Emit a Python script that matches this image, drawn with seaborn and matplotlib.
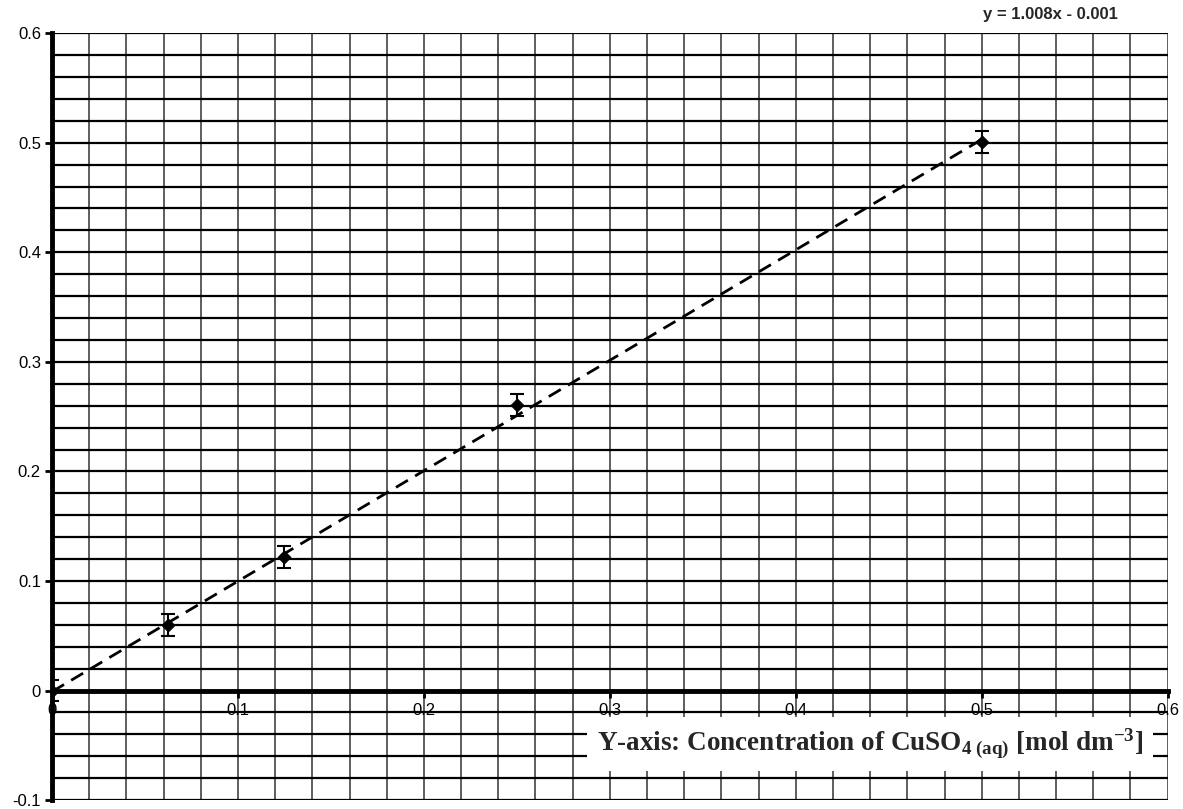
#!/usr/bin/env python3
"""Calibration line for CuSO4 concentration, old Excel look: dense grid, error bars, dashed trend."""

import matplotlib
matplotlib.use("Agg")
import matplotlib.pyplot as plt
import numpy as np
import pandas as pd
import seaborn as sns

# measured points
conc_x = [0.0, 0.0625, 0.125, 0.25, 0.5]
conc_y = [0.0, 0.060, 0.122, 0.261, 0.501]
err_y = [0.01, 0.01, 0.01, 0.01, 0.01]

# linear trendline as printed on the chart
TREND_SLOPE = 1.008
TREND_INTERCEPT = -0.001
trend_x = [0.0, 0.5]

x_ticks = [0.0, 0.1, 0.2, 0.3, 0.4, 0.5, 0.6]
x_tick_labels = ["0", "0.1", "0.2", "0.3", "0.4", "0.5", "0.6"]
y_ticks = [-0.1, 0.0, 0.1, 0.2, 0.3, 0.4, 0.5, 0.6]
y_tick_labels = ["-0.1", "0", "0.1", "0.2", "0.3", "0.4", "0.5", "0.6"]

EQUATION = "y = 1.008x - 0.001"
AXIS_NOTE = r"Y-axis: Concentration of CuSO$_{4\ \mathrm{(aq)}}$ [mol dm$^{-3}$]"


def main() -> None:
    sns.set_theme(style="white")
    plt.rcParams["font.family"] = ["Liberation Sans", "DejaVu Sans"]
    plt.rcParams["mathtext.fontset"] = "custom"
    plt.rcParams["mathtext.rm"] = "Liberation Serif:bold"
    plt.rcParams["mathtext.it"] = "Liberation Serif:bold:italic"
    plt.rcParams["mathtext.bf"] = "Liberation Serif:bold"

    pts = pd.DataFrame({"x": conc_x, "y": conc_y})
    trend = pd.DataFrame({"x": trend_x})
    trend["y"] = TREND_SLOPE * trend["x"] + TREND_INTERCEPT

    fig = plt.figure(figsize=(11.83, 8.09), dpi=100)
    ax = fig.add_axes([0.044, 0.011, 0.943, 0.948])

    # dense Excel-style grid, every 0.02
    for gx in np.arange(0.0, 0.6001, 0.02):
        ax.axvline(gx, color="#333333", lw=1.1, zorder=0)
    for gy in np.arange(-0.1, 0.6001, 0.02):
        ax.axhline(gy, color="black", lw=1.6, zorder=0)

    sns.lineplot(data=trend, x="x", y="y", ax=ax, color="black", lw=2.0,
                 dashes=[(5, 3)], style=[0, 0], legend=False, zorder=3)
    ax.errorbar(conc_x, conc_y, yerr=err_y, fmt="none", ecolor="black",
                elinewidth=1.5, capsize=5, capthick=1.5, zorder=4)
    sns.scatterplot(data=pts, x="x", y="y", ax=ax, marker="D", s=45,
                    color="black", edgecolor="black", zorder=5, legend=False)

    ax.set_xlim(0, 0.6)
    ax.set_ylim(-0.1, 0.6)
    ax.set_xticks(x_ticks, x_tick_labels)
    ax.set_yticks(y_ticks, y_tick_labels)
    ax.set_xlabel("")
    ax.set_ylabel("")

    ax.spines["bottom"].set_position(("data", 0))
    ax.spines["bottom"].set_linewidth(3.5)
    ax.spines["left"].set_linewidth(3.5)
    ax.spines["top"].set_visible(False)
    ax.spines["right"].set_visible(False)
    for sp in ("bottom", "left"):
        ax.spines[sp].set_color("black")
    ax.tick_params(axis="both", which="major", length=5, width=2,
                   color="black", labelsize=12, labelcolor="black")
    ax.tick_params(axis="x", pad=4, bottom=True)
    ax.tick_params(axis="y", pad=3, left=True)

    fig.text(0.888, 0.982, EQUATION, ha="center", va="center",
             fontsize=12, fontweight="bold")
    ax.text(0.44, -0.049, AXIS_NOTE, ha="center", va="center",
            fontsize=19.5, fontfamily="Liberation Serif", fontweight="bold",
            bbox=dict(facecolor="white", edgecolor="none", pad=7), zorder=6)

    fig.savefig("out.png", dpi=100)


if __name__ == "__main__":
    main()
